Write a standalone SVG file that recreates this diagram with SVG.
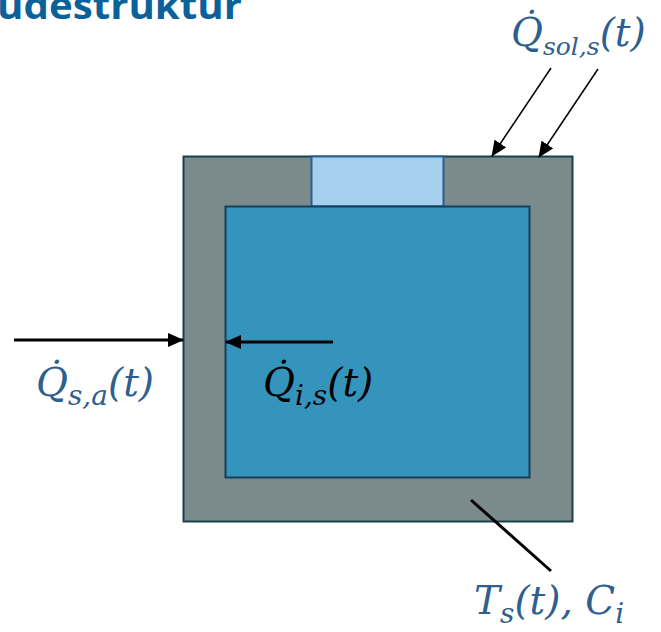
<svg xmlns="http://www.w3.org/2000/svg" width="661" height="632" viewBox="0 0 661 632">
<defs>
<marker id="ah2" markerWidth="16" markerHeight="14" refX="15" refY="7" orient="auto" markerUnits="userSpaceOnUse" viewBox="0 0 16 14">
<path d="M0,0 L16,7 L0,14 z" fill="#000"/>
</marker>
</defs>
<style>
.title{font-family:"Open Sans","Liberation Sans",sans-serif;font-weight:bold;font-size:38px;fill:#0b6199}
.m{font-family:"DejaVu Serif","Liberation Serif",serif;font-style:italic;fill:#2f5f8f}
.mk{fill:#000}
.big{font-size:39px}
.sub{font-size:28px}
.sub2{font-size:25px}
.ln{stroke:#000;fill:none}
</style>
<text class="title" x="-3" y="19" textLength="245" lengthAdjust="spacingAndGlyphs">udestruktur</text>
<g id="wall">
<rect x="183.5" y="156.5" width="389" height="365" fill="#7b8b8c" stroke="#17414f" stroke-width="2"/>
</g>
<g id="window">
<rect x="311.5" y="156.5" width="132" height="50" fill="#a6cfee" stroke="#2a5e91" stroke-width="2"/>
</g>
<g id="room">
<rect x="225.5" y="206.5" width="304" height="271" fill="#3594bc" stroke="#163e58" stroke-width="2"/>
</g>
<g id="connectors">
<line class="ln" x1="551" y1="68" x2="492" y2="156" stroke-width="1.5" marker-end="url(#ah2)"/>
<line class="ln" x1="598" y1="69" x2="539" y2="157" stroke-width="1.5" marker-end="url(#ah2)"/>
<line class="ln" x1="14" y1="340" x2="183" y2="340" stroke-width="3" marker-end="url(#ah2)"/>
<line class="ln" x1="333" y1="342" x2="226" y2="342" stroke-width="3" marker-end="url(#ah2)"/>
<line class="ln" x1="471" y1="500" x2="551" y2="571" stroke-width="3"/>
</g>
<g id="labels">
<text class="m" x="511" y="46"><tspan class="big">Q̇</tspan><tspan class="sub2" dy="9">sol,s</tspan><tspan class="big" dy="-9">(t)</tspan></text>
<text class="m" x="36" y="396"><tspan class="big">Q̇</tspan><tspan class="sub" dy="9">s,a</tspan><tspan class="big" dy="-9">(t)</tspan></text>
<text class="m mk" x="263" y="396"><tspan class="big">Q̇</tspan><tspan class="sub" dy="9">i,s</tspan><tspan class="big" dy="-9">(t)</tspan></text>
<text class="m" x="474" y="614"><tspan class="big">T</tspan><tspan class="sub" dy="9">s</tspan><tspan class="big" dy="-9">(t), C</tspan><tspan class="sub" dy="9">i</tspan></text>
</g>
</svg>
